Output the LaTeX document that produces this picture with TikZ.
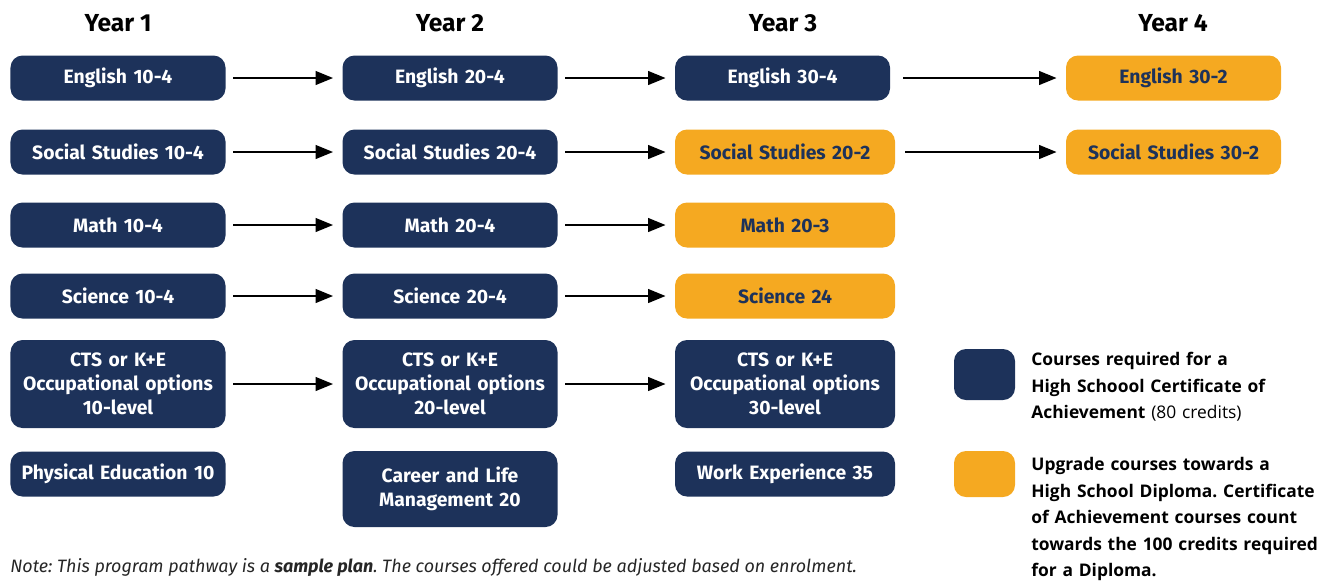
\documentclass[tikz,border=0pt]{standalone}
\usepackage{fontspec}
\setmainfont{Fira Sans}
\newfontfamily\legendfont{Open Sans}
\usetikzlibrary{arrows.meta}
\frenchspacing
\definecolor{navy}{RGB}{29,50,90}
\definecolor{gold}{RGB}{245,169,33}
\tikzset{
  course/.style={draw=none, fill=navy, text=white, rounded corners=2.4mm, align=center, inner sep=0pt,
    font=\bfseries\fontsize{11}{13.7}\selectfont, minimum height=9mm, text width=43mm},
  upgrade/.style={course, fill=gold, text=navy},
  year/.style={draw=none, font=\bfseries\fontsize{14}{16}\selectfont},
  flow/.style={-{Triangle[length=3.5mm,width=2.7mm]}, line width=0.5mm, shorten <=1.5mm, shorten >=1.8mm},
  legend/.style={draw=none, align=left, inner sep=0pt, text width=62mm, anchor=north west,
    font=\legendfont\bfseries\fontsize{9.9}{15.1}\selectfont}
}
\begin{document}
\begin{tikzpicture}[x=0.2mm,y=-0.2mm]
    \useasboundingbox (0,0) rectangle (1335,586);

    % year 1
    \node [year, name=y1] at (118,23) {Year 1};
    \node [course, name=e1] at (118,78) {English 10-4};
    \node [course, name=s1] at (118,152) {Social Studies 10-4};
    \node [course, name=m1] at (118,225) {Math 10-4};
    \node [course, name=sc1] at (118,296) {Science 10-4};
    \node [course, name=c1, minimum height=17.6mm] at (118,384) {CTS or K+E\\Occupational options\\10-level};
    \node [course, name=p1] at (118,474) {Physical Education 10};

    % year 2
    \node [year, name=y2] at (450,23) {Year 2};
    \node [course, name=e2] at (450,78) {English 20-4};
    \node [course, name=s2] at (450,152) {Social Studies 20-4};
    \node [course, name=m2] at (450,225) {Math 20-4};
    \node [course, name=sc2] at (450,296) {Science 20-4};
    \node [course, name=c2, minimum height=17.6mm] at (450,384) {CTS or K+E\\Occupational options\\20-level};
    \node [course, name=cl2, minimum height=15.2mm] at (450,489) {Career and Life\\Management 20};

    % year 3
    \node [year, name=y3] at (783,23) {Year 3};
    \node [course, name=e3] at (782.5,78) {English 30-4};
    \node [upgrade, name=s3, text width=44mm] at (785,152) {Social Studies 20-2};
    \node [upgrade, name=m3, text width=44mm] at (785,225) {Math 20-3};
    \node [upgrade, name=sc3, text width=44mm] at (785,296) {Science 24};
    \node [course, name=c3, text width=44mm, minimum height=17.6mm] at (785,384) {CTS or K+E\\Occupational options\\30-level};
    \node [course, name=w3, text width=44mm] at (785,474) {Work Experience 35};

    % year 4
    \node [year, name=y4] at (1173,23) {Year 4};
    \node [upgrade, name=e4] at (1173.5,78) {English 30-2};
    \node [upgrade, name=s4] at (1173.5,152) {Social Studies 30-2};

    % arrows
    \draw [flow] (e1) -- (e2);
    \draw [flow] (s1) -- (s2);
    \draw [flow] (m1) -- (m2);
    \draw [flow] (sc1) -- (sc2);
    \draw [flow] (c1) -- (c2);
    \draw [flow] (e2) -- (e3);
    \draw [flow] (s2) -- (s3);
    \draw [flow] (m2) -- (m3);
    \draw [flow] (sc2) -- (sc3);
    \draw [flow] (c2) -- (c3);
    \draw [flow, shorten <=2.6mm] (e3) -- (e4);
    \draw [flow, shorten <=2mm] (s3) -- (s4);

    % legend
    \node [course, name=k1, text width=12.2mm, minimum height=10.2mm] at (984.5,374.5) {};
    \node [legend, name=k1t] at (1031,352) {Courses required for a\\High Schoool Certificate of\\Achievement {\mdseries(80 credits)}};
    \node [upgrade, name=k2, text width=12.2mm, minimum height=9.2mm] at (984.5,474) {};
    \node [legend, name=k2t] at (1031,457) {Upgrade courses towards a\\High School Diploma. Certificate\\of Achievement courses count\\towards the 100 credits required\\for a Diploma.};

    % note
    \node [draw=none, anchor=west, inner sep=0pt, name=note, font=\itshape\fontsize{10.2}{12}\selectfont, text=black!85] at (10,567)
      {Note: This program pathway is a \textbf{sample plan}. The courses offered could be adjusted based on enrolment.};
  \end{tikzpicture}
\end{document}
